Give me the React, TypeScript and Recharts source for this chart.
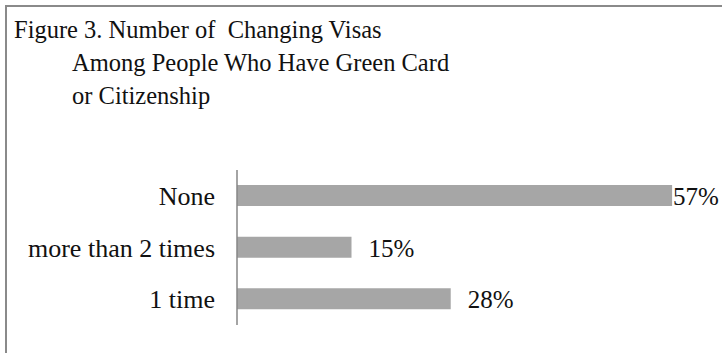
import { Bar, BarChart, LabelList, XAxis, YAxis } from 'recharts';

// categories from top to bottom, as in the figure
const categories = ['None', 'more than 2 times', '1 time'];
const shares = [57, 15, 28];

const titleLines = [
  'Figure 3. Number of  Changing Visas',
  'Among People Who Have Green Card',
  'or Citizenship',
];

const FONT = "'Liberation Serif', serif";
const W = 722;
const H = 353;

const rows = categories.map((name, i) => ({ name, value: shares[i] }));

// Excel pushed the last label back inside the frame, so clamp it to the right edge
function ValueLabel(props: any) {
  const { x, y, width, height, value } = props;
  const lx = Math.min(Number(x) + Number(width) + 17, W - 49);
  return (
    <text
      dominantBaseline="central"
      fill="#111"
      style={{ fontFamily: FONT, fontSize: 25 }}
      x={lx}
      y={Number(y) + Number(height) / 2 + 1}
    >
      {`${value}%`}
    </text>
  );
}

export default function App() {
  return (
    <div
      style={{
        position: 'absolute',
        left: 0,
        top: 0,
        width: W,
        height: H,
        overflow: 'hidden',
        background: '#fff',
        fontFamily: FONT,
      }}
    >
      <div
        style={{
          position: 'absolute',
          left: 5,
          top: 5,
          width: W,
          height: H,
          borderTop: '2px solid #8a8a8a',
          borderLeft: '2px solid #8a8a8a',
        }}
      />
      <div
        style={{
          position: 'absolute',
          left: 14,
          top: 13,
          fontSize: 24.5,
          lineHeight: '33px',
          color: '#111',
          whiteSpace: 'pre',
        }}
      >
        {titleLines.map((t, i) => (
          <div key={i} style={{ paddingLeft: i === 0 ? 0 : 58 }}>
            {t}
          </div>
        ))}
      </div>
      <div style={{ position: 'absolute', left: 0, top: 0, fontFamily: FONT }}>
        <BarChart
          data={rows}
          height={H}
          layout="vertical"
          margin={{ bottom: 28, left: 0, right: 27, top: 170 }}
          width={W}
        >
          <XAxis domain={[0, 60]} hide type="number" />
          <YAxis
            axisLine={{ stroke: '#868686', strokeWidth: 1.5 }}
            dataKey="name"
            tick={{ fill: '#111', fontSize: 26, style: { fontFamily: FONT } }}
            tickLine={false}
            tickMargin={22}
            tickSize={0}
            type="category"
            width={237}
          />
          <Bar barSize={21} dataKey="value" fill="#a6a6a6" isAnimationActive={false}>
            <LabelList content={ValueLabel} dataKey="value" />
          </Bar>
        </BarChart>
      </div>
    </div>
  );
}
